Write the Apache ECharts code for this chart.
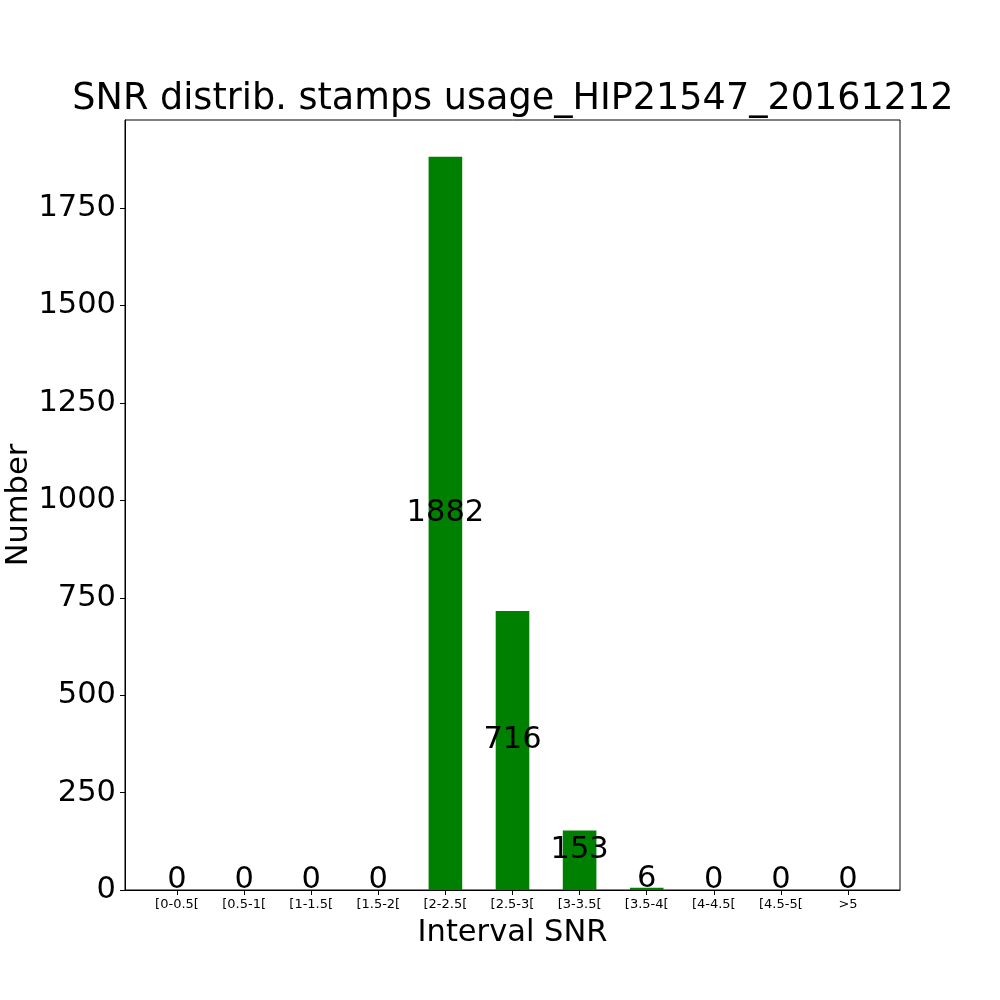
<!DOCTYPE html>
<html>
<head>
<meta charset="utf-8">
<script src="https://cdn.jsdelivr.net/npm/echarts@6/dist/echarts.min.js"></script>
<style>
  html, body { margin: 0; padding: 0; background: #fff; }
  #main { width: 1000px; height: 1000px; }
</style>
</head>
<body>
<div id="main"></div>
<script>
var categories = ['[0-0.5[', '[0.5-1[', '[1-1.5[', '[1.5-2[', '[2-2.5[', '[2.5-3[', '[3-3.5[', '[3.5-4[', '[4-4.5[', '[4.5-5[', '>5'];
var counts = [0, 0, 0, 0, 1882, 716, 153, 6, 0, 0, 0];
var yTicks = [0, 250, 500, 750, 1000, 1250, 1500, 1750];

var font = 'DejaVu Sans';
var big = 30.5;
var positions = categories.map(function (c, i) { return i; });

var myChart = echarts.init(document.getElementById('main'));
var option = {
	animation: false,
	title: {
		text: 'SNR distrib. stamps usage_HIP21547_20161212',
		left: 508,
		top: 76,
		textAlign: 'center',
		textStyle: { fontFamily: font, fontSize: 36.6, fontWeight: 'normal', color: '#000' }
	},
	grid: {
		left: 125, right: 100, top: 120, bottom: 110,
		outerBoundsMode: 'none',
		containLabel: false,
		show: true, borderColor: '#000', borderWidth: 1, backgroundColor: '#fff'
	},
	xAxis: {
		type: 'value',
		min: -0.775,
		max: 10.775,
		name: 'Interval SNR',
		nameLocation: 'middle',
		nameGap: 28,
		nameMoveOverlap: false,
		nameTextStyle: { fontFamily: font, fontSize: big, color: '#000' },
		axisLine: { onZero: false, lineStyle: { color: '#000' } },
		axisTick: { customValues: positions, length: 5, lineStyle: { color: '#000' } },
		axisLabel: {
			customValues: positions,
			fontFamily: font, fontSize: 13, color: '#000', margin: 8,
			formatter: function (v) { return categories[Math.round(v)]; }
		},
		splitLine: { show: false }
	},
	yAxis: {
		type: 'value',
		min: 0,
		max: 1976.1,
		name: 'Number',
		nameLocation: 'middle',
		nameRotate: 90,
		nameGap: 90,
		nameMoveOverlap: false,
		nameTextStyle: { fontFamily: font, fontSize: big, color: '#000' },
		axisLine: { show: true, onZero: false, lineStyle: { color: '#000' } },
		axisTick: { show: true, customValues: yTicks, length: 5, lineStyle: { color: '#000' } },
		axisLabel: {
			customValues: yTicks, fontFamily: font, fontSize: big, color: '#000', margin: 9,
			formatter: function (v) { return String(v); }
		},
		splitLine: { show: false }
	},
	series: [{
		type: 'bar',
		data: counts.map(function (v, i) { return [i, v]; }),
		barWidth: 33.6,
		itemStyle: { color: '#008000' },
		label: {
			show: true,
			position: 'inside',
			offset: [0, -10],
			fontFamily: font, fontSize: big, color: '#000'
		}
	}]
};
myChart.setOption(option);
</script>
</body>
</html>
